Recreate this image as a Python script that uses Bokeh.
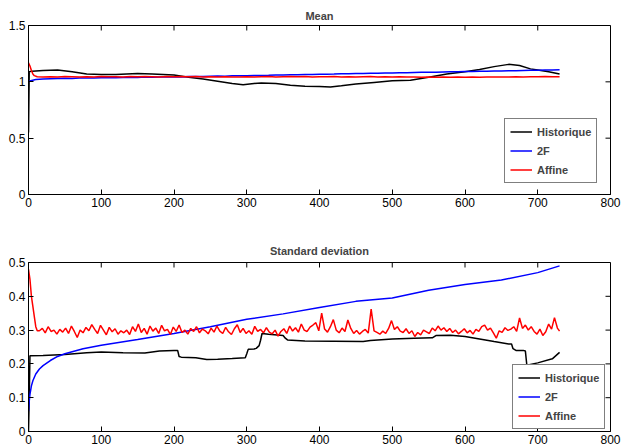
import math
from bokeh.plotting import figure
from bokeh.models import Range1d, FixedTicker, Legend, LegendItem
from bokeh.layouts import column
from bokeh.embed import file_html
from bokeh.resources import INLINE

# ---------------- data ----------------
series_names = ["Historique", "2F", "Affine"]
series_colors = ["#000000", "#0000FF", "#FF0000"]

x_ticks = [0, 100, 200, 300, 400, 500, 600, 700, 800]
x_tick_labels = ["0", "100", "200", "300", "400", "500", "600", "700", "800"]
mean_y_ticks = [0, 0.5, 1, 1.5]
mean_y_tick_labels = ["0", "0.5", "1", "1.5"]
sd_y_ticks = [0, 0.1, 0.2, 0.3, 0.4, 0.5]
sd_y_tick_labels = ["0", "0.1", "0.2", "0.3", "0.4", "0.5"]

# Mean panel
hist_mean_x = [0, 1, 5, 20, 40, 60, 80, 100, 120, 150, 170, 200, 220, 240, 260, 280, 295,
               310, 320, 340, 360, 380, 400, 415, 430, 450, 475, 500, 525, 550, 575, 600,
               620, 640, 660, 675, 690, 700, 715, 730]
hist_mean = [0.55, 1.09, 1.095, 1.10, 1.105, 1.09, 1.07, 1.065, 1.065, 1.075, 1.07, 1.06,
             1.04, 1.025, 1.005, 0.985, 0.975, 0.985, 0.99, 0.985, 0.97, 0.96, 0.958, 0.955,
             0.965, 0.98, 0.995, 1.01, 1.015, 1.04, 1.07, 1.09, 1.11, 1.135, 1.155, 1.145,
             1.115, 1.105, 1.09, 1.07]

f2_mean_x = [0, 3, 10] + list(range(20, 731, 10))
f2_mean = [1.0, 1.01, 1.02,
           1.025, 1.028, 1.030, 1.031, 1.030, 1.033, 1.034, 1.033, 1.036, 1.037,
           1.036, 1.039, 1.040, 1.039, 1.042, 1.041, 1.043, 1.044, 1.045, 1.044,
           1.047, 1.048, 1.047, 1.050, 1.051, 1.050, 1.053, 1.054, 1.055, 1.056,
           1.057, 1.058, 1.060, 1.061, 1.062, 1.063, 1.065, 1.066, 1.067, 1.068,
           1.069, 1.071, 1.072, 1.073, 1.074, 1.076, 1.077, 1.078, 1.079, 1.080,
           1.081, 1.083, 1.084, 1.085, 1.086, 1.088, 1.089, 1.090, 1.091, 1.092,
           1.094, 1.095, 1.096, 1.097, 1.098, 1.099, 1.101, 1.102, 1.103, 1.105,
           1.106, 1.108]

aff_mean_x = [0, 2, 4, 6, 8, 12] + list(range(20, 731, 10))
aff_mean = [1.17, 1.14, 1.10, 1.07, 1.055, 1.045,
            1.043, 1.046, 1.044, 1.047, 1.045, 1.043, 1.046, 1.044, 1.047, 1.045,
            1.046, 1.044, 1.047, 1.045, 1.048, 1.046, 1.044, 1.047, 1.046, 1.048,
            1.045, 1.047, 1.044, 1.046, 1.043, 1.045, 1.042, 1.044, 1.046, 1.043,
            1.045, 1.047, 1.044, 1.046, 1.048, 1.045, 1.047, 1.044, 1.046, 1.045,
            1.047, 1.044, 1.046, 1.043, 1.045, 1.047, 1.044, 1.046, 1.043, 1.045,
            1.042, 1.044, 1.041, 1.043, 1.040, 1.042, 1.041, 1.043, 1.040, 1.042,
            1.041, 1.043, 1.042, 1.044, 1.043, 1.045, 1.044, 1.046, 1.045, 1.047,
            1.046, 1.045]

# Standard deviation panel
hist_sd_x = [0, 1, 2, 20, 50, 80, 100, 130, 160, 180, 200, 205, 207, 210, 230, 245, 260,
             280, 298, 300, 302, 310, 313, 317, 319, 321, 330, 350, 353, 356, 380, 420,
             460, 470, 500, 530, 555, 560, 580, 600, 620, 640, 660, 664, 666, 670, 680,
             683, 685, 700, 720, 730]
hist_sd = [0.0, 0.1, 0.224, 0.225, 0.228, 0.233, 0.235, 0.233, 0.232, 0.238, 0.240, 0.240,
           0.222, 0.220, 0.218, 0.213, 0.214, 0.216, 0.218, 0.230, 0.243, 0.244, 0.246,
           0.254, 0.270, 0.290, 0.288, 0.284, 0.276, 0.271, 0.268, 0.267, 0.266, 0.269,
           0.274, 0.276, 0.277, 0.284, 0.285, 0.281, 0.274, 0.266, 0.259, 0.259, 0.245,
           0.240, 0.240, 0.238, 0.196, 0.203, 0.215, 0.234]

f2_sd_x = [0, 1, 2, 4, 6, 10, 15, 20, 30, 40, 50, 75, 100, 150, 200, 250, 300, 350, 400,
           450, 500, 550, 600, 650, 700, 730]
f2_sd = [0.06, 0.09, 0.11, 0.135, 0.15, 0.17, 0.185, 0.195, 0.21, 0.222, 0.23, 0.245,
         0.255, 0.272, 0.29, 0.31, 0.332, 0.348, 0.367, 0.385, 0.395, 0.418, 0.435, 0.448,
         0.47, 0.49]

aff_sd_x = [0, 2, 4, 6, 8, 10, 12] + list(range(15, 728, 4)) + [730]
aff_sd = [0.48, 0.45, 0.40, 0.37, 0.34, 0.31, 0.298,
          0.298, 0.305, 0.292, 0.310, 0.296, 0.300, 0.288, 0.302, 0.294, 0.306,
          0.290, 0.312, 0.296, 0.278, 0.300, 0.292, 0.308, 0.298, 0.316, 0.302,
          0.290, 0.314, 0.300, 0.286, 0.308, 0.295, 0.304, 0.288, 0.298, 0.292,
          0.300, 0.287, 0.310, 0.296, 0.318, 0.293, 0.305, 0.288, 0.312, 0.297,
          0.306, 0.290, 0.314, 0.298, 0.302, 0.287, 0.309, 0.296, 0.315, 0.293,
          0.300, 0.288, 0.305, 0.296, 0.310, 0.292, 0.303, 0.298, 0.289, 0.306,
          0.294, 0.312, 0.297, 0.290, 0.308, 0.295, 0.287, 0.304, 0.316, 0.293,
          0.305, 0.290, 0.298, 0.288, 0.311, 0.296, 0.302, 0.292, 0.307, 0.294,
          0.289, 0.300, 0.282, 0.296, 0.304, 0.290, 0.312, 0.297, 0.307, 0.294,
          0.318, 0.300, 0.296, 0.309, 0.315, 0.322, 0.298, 0.350, 0.303, 0.294,
          0.310, 0.331, 0.300, 0.292, 0.306, 0.296, 0.330, 0.305, 0.290, 0.299,
          0.288, 0.296, 0.302, 0.291, 0.362, 0.298, 0.293, 0.288, 0.297, 0.290,
          0.305, 0.328, 0.302, 0.310, 0.297, 0.293, 0.304, 0.290, 0.298, 0.281,
          0.293, 0.286, 0.300, 0.295, 0.290, 0.306, 0.298, 0.312, 0.300, 0.307,
          0.296, 0.305, 0.293, 0.300, 0.289, 0.296, 0.304, 0.292, 0.299, 0.288,
          0.302, 0.296, 0.310, 0.315, 0.300, 0.306, 0.292, 0.276, 0.298, 0.293,
          0.307, 0.299, 0.303, 0.310, 0.296, 0.336, 0.305, 0.315, 0.300, 0.310,
          0.296, 0.288, 0.303, 0.284, 0.295, 0.318, 0.303, 0.337, 0.306,
          0.297]

FONT = "Liberation Sans"
X_MAX = 800


def make_panel(title, y_max, y_ticks, y_labels, series, height, b_top, b_bottom,
               title_standoff, legend_loc):
    p = figure(width=622, height=height, output_backend="svg", toolbar_location=None,
               x_range=Range1d(0, X_MAX), y_range=Range1d(0, y_max),
               min_border_left=28, min_border_right=12,
               min_border_top=b_top, min_border_bottom=b_bottom)
    p.title.text = title
    p.title.align = "center"
    p.title.text_font = FONT
    p.title.text_font_style = "bold"
    p.title.text_font_size = "11px"
    p.title.standoff = title_standoff
    p.grid.visible = False
    p.outline_line_color = "#000000"
    p.background_fill_color = "white"
    p.border_fill_color = "white"
    p.xaxis.ticker = FixedTicker(ticks=x_ticks, minor_ticks=[])
    p.xaxis.major_label_overrides = dict(zip(x_ticks, x_tick_labels))
    p.yaxis.ticker = FixedTicker(ticks=y_ticks, minor_ticks=[])
    p.yaxis.major_label_overrides = dict(zip(y_ticks, y_labels))
    for ax in list(p.xaxis) + list(p.yaxis):
        ax.major_tick_in = 5
        ax.major_tick_out = 0
        ax.major_tick_line_color = "#000000"
        ax.axis_line_color = "#000000"
        ax.major_label_text_font = FONT
        ax.major_label_text_font_size = "12px"
        ax.major_label_text_color = "#000000"
        ax.major_label_standoff = 3
    # inward ticks on the top and right edges of the box (MATLAB style)
    p.ray(x=x_ticks, y=[y_max] * len(x_ticks), length=5, length_units="screen",
          angle=-math.pi / 2, line_color="#000000", line_width=1)
    p.ray(x=[X_MAX] * len(y_ticks), y=y_ticks, length=5, length_units="screen",
          angle=math.pi, line_color="#000000", line_width=1)
    items = []
    for (xs, ys), name, col in zip(series, series_names, series_colors):
        r = p.line(xs, ys, line_color=col, line_width=1.5)
        items.append(LegendItem(label=name, renderers=[r]))
    leg = Legend(items=items, location=legend_loc)
    leg.border_line_color = "#000000"
    leg.border_line_width = 1
    leg.background_fill_color = "white"
    leg.background_fill_alpha = 1
    leg.label_text_font = FONT
    leg.label_text_font_style = "bold"
    leg.label_text_font_size = "11px"
    leg.glyph_width = 22
    leg.glyph_height = 15
    leg.label_height = 15
    leg.label_standoff = 5
    leg.spacing = 4
    leg.padding = 5
    leg.margin = 0
    p.add_layout(leg, "center")
    return p


p1 = make_panel("Mean", 1.5, mean_y_ticks, mean_y_tick_labels,
                [(hist_mean_x, hist_mean), (f2_mean_x, f2_mean), (aff_mean_x, aff_mean)],
                221, 25, 27, 8, (476, 11))
p2 = make_panel("Standard deviation", 0.5, sd_y_ticks, sd_y_tick_labels,
                [(hist_sd_x, hist_sd), (f2_sd_x, f2_sd), (aff_sd_x, aff_sd)],
                225, 41, 14, 11, (484, 2))

layout = column(p1, p2, spacing=0)
open("out.html", "w").write(file_html(layout, INLINE))
